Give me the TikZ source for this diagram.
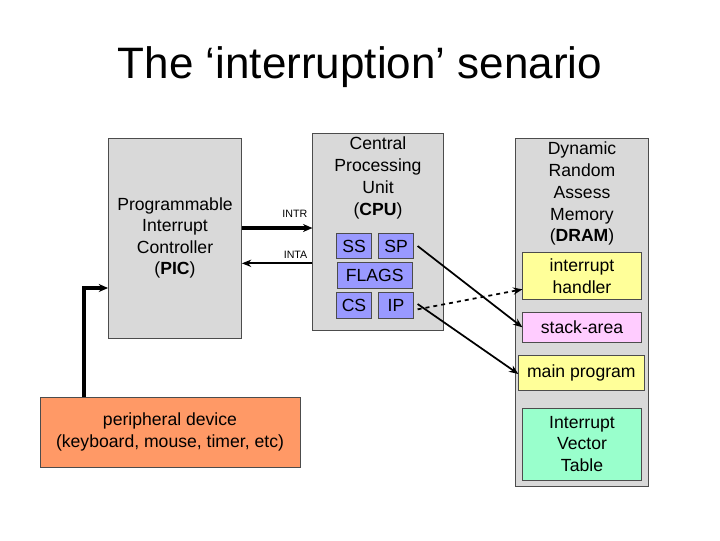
\documentclass[tikz,border=0pt]{standalone}
\usepackage{fontspec}
\setmainfont{Liberation Sans}
\usetikzlibrary{arrows.meta}
\definecolor{regc}{HTML}{9999FF}
\definecolor{perc}{HTML}{FF9966}
\definecolor{ivtc}{HTML}{99FFCC}
\definecolor{yelc}{HTML}{FFFF99}
\definecolor{pinkc}{HTML}{FFCCFF}
\begin{document}
\begin{tikzpicture}[x=1pt,y=-1pt,
  box/.style={draw=black!70,fill=black!15,align=center,inner sep=0pt,font=\fontsize{13.2}{16.2}\selectfont},
  reg/.style={draw=black!70,fill=regc,inner sep=0pt,font=\fontsize{13.2}{14}\selectfont},
  mem/.style={draw=black!70,align=center,inner sep=0pt,font=\fontsize{13.2}{16.2}\selectfont,minimum width=89pt},
  arr/.style={-{Stealth[length=7pt,width=5.5pt]},line width=1.3pt}]
\useasboundingbox (0,0) rectangle (540,405);
\node (title) at (270,50) {\fontsize{33}{38}\selectfont The ‘interruption’ senario};
\node[box,minimum width=100pt,minimum height=150pt] (pic) at (131.25,178.5) {Programmable\\Interrupt\\Controller\\(\textbf{PIC})};
\node[box,minimum width=98pt,minimum height=148pt] (cpu) at (283.5,174) {};
\node[align=center,font=\fontsize{13.2}{16.5}\selectfont,anchor=north] (cput) at (283.5,99) {Central\\Processing\\Unit\\(\textbf{CPU})};
\node[reg,minimum width=26pt,minimum height=19pt] (ss) at (265.5,184.5) {SS};
\node[reg,minimum width=26pt,minimum height=19pt] (sp) at (297,184.5) {SP};
\node[reg,minimum width=56pt,minimum height=19pt] (flags) at (281,206.5) {FLAGS};
\node[reg,minimum width=26pt,minimum height=19pt] (cs) at (265.5,229) {CS};
\node[reg,minimum width=26pt,minimum height=19pt] (ip) at (297,229) {IP};
\node[box,minimum width=100pt,minimum height=261pt] (dram) at (436.5,234) {};
\node[align=center,font=\fontsize{13.2}{16.3}\selectfont,anchor=north] (dramt) at (436.5,103) {Dynamic\\Random\\Assess\\Memory\\(\textbf{DRAM})};
\node[mem,fill=yelc,minimum height=35pt] (ih) at (436.5,207) {interrupt\\handler};
\node[mem,fill=pinkc,minimum height=22.5pt] (stack) at (436.5,245.5) {stack-area};
\node[mem,fill=yelc,minimum height=26pt,minimum width=94pt] (main) at (436,279.5) {main program};
\node[mem,fill=ivtc,minimum height=54pt] (ivt) at (436.5,333) {Interrupt\\Vector\\Table};
\node[draw=black!70,fill=perc,minimum width=195pt,minimum height=52.5pt,align=center,inner sep=0pt,font=\fontsize{13.2}{16.5}\selectfont] (per) at (127.5,324) {peripheral device\\(keyboard, mouse, timer, etc)};
\node[font=\fontsize{8}{9}\selectfont,anchor=south east] (intr) at (234,167) {INTR};
\node[font=\fontsize{8}{9}\selectfont,anchor=south east] (inta) at (234,197.5) {INTA};
\coordinate (per1) at (63,297.75);
\draw[-{Stealth[length=7pt,width=6pt]},line width=2.5pt] (per1) |- (pic.west |- 0,216);
\draw[-{Stealth[length=7pt,width=6pt]},line width=2.5pt] (pic.east |- 0,171) -- (cpu.west |- 0,171);
\draw[arr] (cpu.west |- 0,197.5) -- (pic.east |- 0,197.5);
\draw[arr] (sp.east) ++(3,0) -- (stack.west);
\draw[arr,dashed] ([xshift=3pt,yshift=-3pt]ip.east) -- (ih.west |- 0,217);
\draw[arr] ([xshift=3pt,yshift=1pt]ip.east) -- ([yshift=-1pt]main.west);
\end{tikzpicture}
\end{document}
